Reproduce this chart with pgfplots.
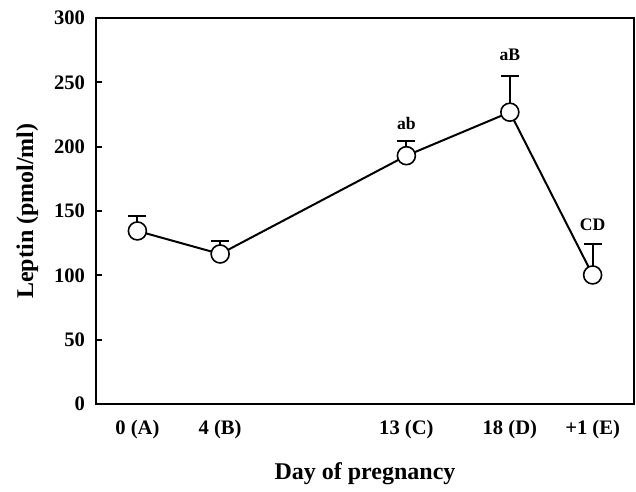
\documentclass[border=0pt]{standalone}
\usepackage{pgfplots}
\pgfplotsset{compat=1.18}
\usepackage{fontspec}
\setmainfont{Liberation Serif}
\begin{document}
\begin{tikzpicture}
\begin{axis}[
  scale only axis,
  width=269pt, height=193pt,
  xmin=-2, xmax=24, ymin=0, ymax=300,
  xtick={0,4,13,18,22},
  xticklabels={0 (A),4 (B),13 (C),18 (D),+1 (E)},
  ytick={0,50,...,300},
  /pgf/number format/assume math mode=true,
  tick label style={font=\fontsize{10.3}{11}\selectfont\bfseries},
  x tick label style={yshift=-4.5pt},
  y tick label style={xshift=-2pt},
  xtick style={draw=none},
  ytick pos=left,
  tick align=inside,
  major tick length=3pt,
  ytick style={line width=0.9pt, black},
  axis line style={line width=1pt},
  xlabel={Day of pregnancy},
  ylabel={Leptin (pmol/ml)},
  label style={font=\fontsize{12}{13}\selectfont\bfseries},
  xlabel style={yshift=-5pt},
  ylabel style={yshift=1pt},
  clip=false,
]
% error bar caps
\addplot[only marks, mark=-, mark size=4.5pt, forget plot,
  mark options={draw=black, line width=1pt}]
  table[x=x, y=t] {
x t
0 146
4 126.6
13 204.5
18 255.3
22 124.3
};
\addplot[black, line width=1pt, mark=*, mark size=4.5pt,
  mark options={fill=white, draw=black, line width=0.8pt},
  error bars/.cd, y dir=plus, y explicit,
  error bar style={line width=1pt, black},
  error mark=none]
  table[x=x, y=y, y error=e] {
x y e
0 134.5 11.5
4 116.6 10
13 193 11.5
18 226.8 28.5
22 100.3 24
};
\addplot[draw=none, mark=none, nodes near coords, point meta=explicit symbolic,
  nodes near coords style={font=\fontsize{8.8}{10}\selectfont\bfseries, anchor=center, inner sep=0pt}]
  table[x=x, y=y, meta=l] {
x y l
13 218 ab
18 271.5 aB
22 139 CD
};
\end{axis}
\path (current axis.south west) ++(-48pt,-40pt) (current axis.north east) ++(1pt,9pt);
\end{tikzpicture}
\end{document}
